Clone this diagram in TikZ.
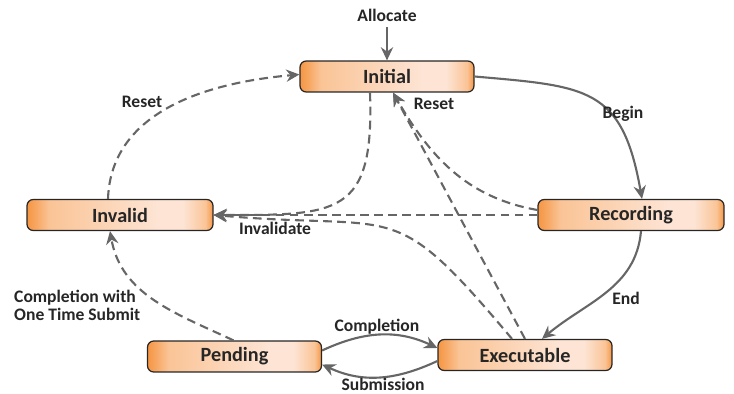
\documentclass[tikz,border=0pt]{standalone}
\usepackage{fontspec}
\setmainfont{Carlito}
\usetikzlibrary{arrows.meta, calc}

\definecolor{boxdark}{RGB}{245,150,68}
\definecolor{boxmid}{RGB}{250,196,150}
\definecolor{boxlight}{RGB}{253,228,212}
\definecolor{linegray}{RGB}{102,102,102}
\definecolor{textgray}{RGB}{38,38,38}

% Orange-to-peach fill of the state boxes
\pgfdeclarehorizontalshading{statefill}{100bp}{color(0bp)=(boxdark); color(25bp)=(boxdark);
  color(27bp)=(boxdark!70!boxmid); color(31bp)=(boxmid); color(60bp)=(boxlight);
  color(67bp)=(boxlight); color(73bp)=(boxmid); color(75bp)=(boxdark); color(100bp)=(boxdark)}

\tikzset{
  stbox/.style={draw=textgray, line width=0.7pt, rounded corners=3.5pt, shading=statefill,
    minimum width=3.48cm, minimum height=0.62cm, text=textgray,
    font=\fontsize{11.5}{13}\selectfont\bfseries},
  lbl/.style={text=textgray, font=\fontsize{10}{10.2}\selectfont\bfseries},
  flow/.style={draw=linegray, line width=1.2pt, -{Stealth[length=7.5pt,width=7pt,inset=2.5pt]}},
  dflow/.style={flow, dash pattern=on 5pt off 3pt}
}

\begin{document}
\begin{tikzpicture}[x=0.02cm, y=0.02cm]
            % Fix the size of the picture
            \useasboundingbox (0,0) rectangle (734,393);

            % Draw the state boxes
            \node[stbox] (init) at (387,316.5) {Initial};
            \node[stbox, minimum width=3.72cm] (rec) at (631,178) {Recording};
            \node[stbox, minimum width=3.72cm] (inv) at (120,178) {Invalid};
            \node[stbox] (pend) at (234.5,36.5) {Pending};
            \node[stbox] (exec) at (525,38) {Executable};

            % Allocate arrow into Initial
            \node[lbl] (alloc) at (387,378) {Allocate};
            \draw[flow] (alloc) -- (init);

            % Begin: Initial to Recording
            \draw[flow] (init.east) to[out=-5, in=100, looseness=1.4] ($(rec.north)+(11,0)$);
            \node[lbl] (lbegin) at (623,279) {Begin};

            % End: Recording to Executable
            \draw[flow] ($(rec.south)+(10,0)$) to[out=-95, in=40] ($(exec.north)+(17,0)$);
            \node[lbl] (lend) at (626,95) {End};

            % Completion and Submission between Pending and Executable
            \draw[flow] ($(pend.east)+(0,6)$) to[out=25, in=155] ($(exec.west)+(0,7)$);
            \node[lbl] (lcompl) at (377,66) {Completion};
            \draw[flow] ($(exec.west)+(0,-6)$) to[out=-155, in=-25] ($(pend.east)+(0,-8)$);
            \node[lbl] (lsubm) at (383,9) {Submission};

            % Reset: Invalid back to Initial
            \draw[dflow] ($(inv.north)+(-12,0)$) to[out=88, in=185] ($(init.west)+(0,2)$);
            \node[lbl] (lreset) at (142,291) {Reset};

            % Reset: Recording and Executable back to Initial
            \draw[dflow] ($(rec.west)+(0,5)$) to[out=170, in=-60] ($(init.south)+(6,0)$);
            \draw[dflow] (exec.north) -- ($(init.south)+(6,0)$);
            \node[lbl] (lreset2) at (434,289) {Reset};

            % Invalidate: three states into Invalid
            \draw[dflow] ($(init.south)+(-17,0)$) to[out=-88, in=0, looseness=1.6] (inv.east);
            \draw[dflow] (rec.west) -- (inv.east);
            \draw[dflow] ($(exec.north)+(-13,0)$) to[out=130, in=-5, looseness=1.5] (inv.east);
            \node[lbl] (linval) at (275,165) {Invalidate};

            % Completion with one time submit: Pending to Invalid
            \draw[dflow] ($(pend.north)+(-1,0)$) to[out=155, in=-80] ($(inv.south)+(-10,0)$);
            \node[lbl, align=left, anchor=west] (lonce) at (8,87.5) {Completion with\\One Time Submit};
        \end{tikzpicture}
\end{document}
